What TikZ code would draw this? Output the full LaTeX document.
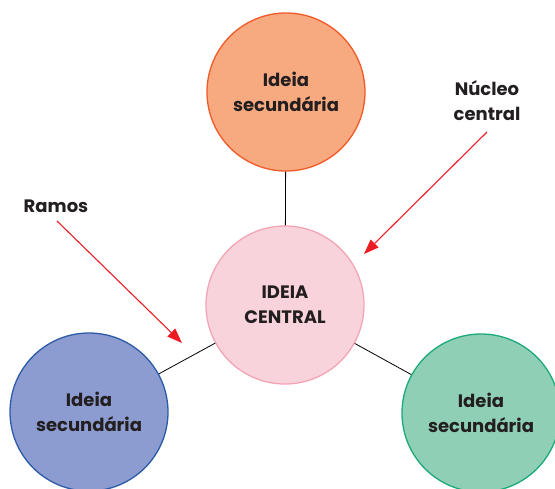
\documentclass[tikz,border=0pt]{standalone}
\usepackage{fontspec}
\setmainfont{Poppins}
\usepackage{tikz}
\usetikzlibrary{arrows.meta}
\definecolor{txt}{HTML}{231F20}
\definecolor{orfill}{HTML}{F7A97F}
\definecolor{ordraw}{HTML}{F05A28}
\definecolor{pkfill}{HTML}{F9D3DB}
\definecolor{pkdraw}{HTML}{F3A5B5}
\definecolor{blfill}{HTML}{8C9BD0}
\definecolor{bldraw}{HTML}{2D5BA8}
\definecolor{grfill}{HTML}{8FCFB6}
\definecolor{grdraw}{HTML}{1BAA78}
\definecolor{arred}{HTML}{ED1C24}
\begin{document}
\begin{tikzpicture}[x=1pt, y=-1pt,
  idea/.style={circle, draw, line width=1.3pt, inner sep=0pt,
               minimum size=158pt, align=center, text=txt,
               font=\fontsize{18}{25}\selectfont\bfseries},
  lbl/.style={align=center, text=txt,
              font=\fontsize{18}{25}\selectfont\bfseries},
  branch/.style={draw=black, line width=0.8pt},
  pointer/.style={draw=arred, line width=1.1pt,
                  -{Triangle[length=15pt, width=11pt]}}
]
\useasboundingbox (0,0) rectangle (555,488);

\node[idea, fill=pkfill, draw=pkdraw] (centre) at (285,305) {IDEIA\\CENTRAL};
\node[idea, fill=orfill, draw=ordraw] (top) at (286,92) {Ideia\\secundária};
\node[idea, fill=blfill, draw=bldraw] (left) at (89,412) {Ideia\\secundária};
\node[idea, fill=grfill, draw=grdraw] (right) at (481,413) {Ideia\\secundária};

\draw[branch] (centre) -- (top);
\draw[branch] (centre) -- (left);
\draw[branch] (centre) -- (right);

\node[lbl] (ramos) at (56,206) {Ramos};
\node[lbl] (nucleo) at (487,101) {Núcleo\\central};

\coordinate (ramostip) at (182,343);
\coordinate (nucleotip) at (364,254);
\draw[pointer] (57,221) -- (ramostip);
\draw[pointer] (487,132) -- (nucleotip);

\end{tikzpicture}
\end{document}
